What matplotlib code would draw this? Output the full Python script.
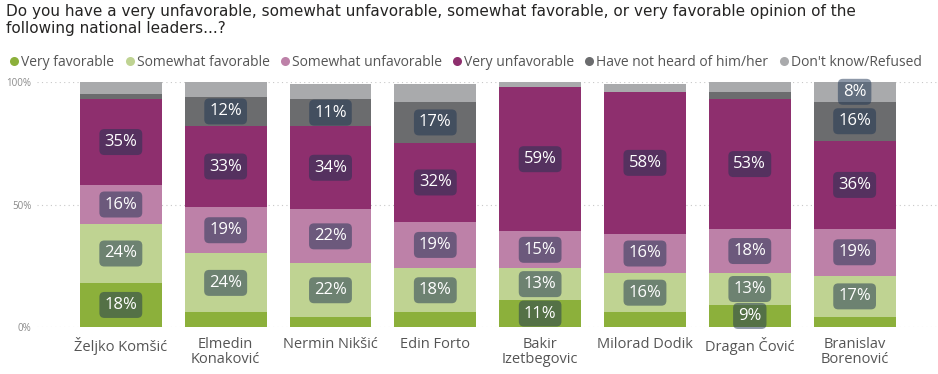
import numpy as np
import matplotlib.pyplot as plt
from matplotlib.lines import Line2D

leaders = ['Željko Komšić', 'Elmedin\nKonaković', 'Nermin Nikšić', 'Edin Forto',
           'Bakir\nIzetbegovic', 'Milorad Dodik', 'Dragan Čović', 'Branislav\nBorenović']

categories = ['Very favorable', 'Somewhat favorable', 'Somewhat unfavorable',
              'Very unfavorable', 'Have not heard of him/her', 'Don\'t know/Refused']

very_fav = [18, 6, 4, 6, 11, 6, 9, 4]
somewhat_fav = [24, 24, 22, 18, 13, 16, 13, 17]
somewhat_unfav = [16, 19, 22, 19, 15, 16, 18, 19]
very_unfav = [35, 33, 34, 32, 59, 58, 53, 36]
not_heard = [2, 12, 11, 17, 0, 0, 3, 16]
dont_know = [5, 6, 6, 7, 2, 3, 4, 8]

colors = ['#8cb03b', '#bfd392', '#bd81a8', '#8e2f6e', '#6b6c6e', '#a9aaac']

series = [very_fav, somewhat_fav, somewhat_unfav, very_unfav, not_heard, dont_know]

plt.rcParams['font.family'] = ['Open Sans', 'DejaVu Sans']

fig = plt.figure(figsize=(9.38, 3.74), dpi=100)
ax = fig.add_axes([0.0394, 0.1257, 0.96, 0.655])

x = np.arange(len(leaders))
bottom = np.zeros(len(leaders))
for vals, col in zip(series, colors):
    vals = np.array(vals, dtype=float)
    ax.bar(x, vals, width=0.78, bottom=bottom, color=col, zorder=2)
    for xi, b, v in zip(x, bottom, vals):
        if v >= 7.5:
            ax.text(xi, b + v / 2, f'{int(v)}%', ha='center', va='center',
                    color='white', fontsize=12, zorder=3,
                    bbox=dict(boxstyle='round,pad=0.3,rounding_size=0.3',
                              facecolor='#1d3352', alpha=0.5, edgecolor='none'))
    bottom += vals

ax.set_xlim(-0.8, 7.79)
ax.set_ylim(0, 100)
ax.set_yticks([0, 50, 100])
ax.set_yticklabels(['0%', '50%', '100%'], fontsize=7, color='#8a8a8a')
ax.set_xticks(x)
ax.set_xticklabels(leaders, fontsize=10.5, color='#555555', linespacing=1.05)
ax.tick_params(axis='both', length=0)
ax.tick_params(axis='x', pad=7)
ax.tick_params(axis='y', pad=4)
ax.grid(axis='y', linestyle=(0, (1, 3)), color='#c8c8c8', linewidth=0.8, zorder=0)
for s in ax.spines.values():
    s.set_visible(False)

fig.text(0.006, 0.988, 'Do you have a very unfavorable, somewhat unfavorable, somewhat favorable, or very favorable opinion of the\nfollowing national leaders...?',
         ha='left', va='top', fontsize=11, color='#252423', linespacing=1.15,
         family='DejaVu Sans')

handles = [Line2D([], [], marker='o', linestyle='none', markersize=6.5,
                  markerfacecolor=c, markeredgecolor='none') for c in colors]
fig.legend(handles, categories, loc='upper left', bbox_to_anchor=(0.008, 0.853),
           ncol=6, frameon=False, fontsize=10, handletextpad=0.0,
           columnspacing=0.6, handlelength=1.0, labelcolor='#555555',
           borderaxespad=0, borderpad=0)

fig.savefig('out.png', dpi=100)
